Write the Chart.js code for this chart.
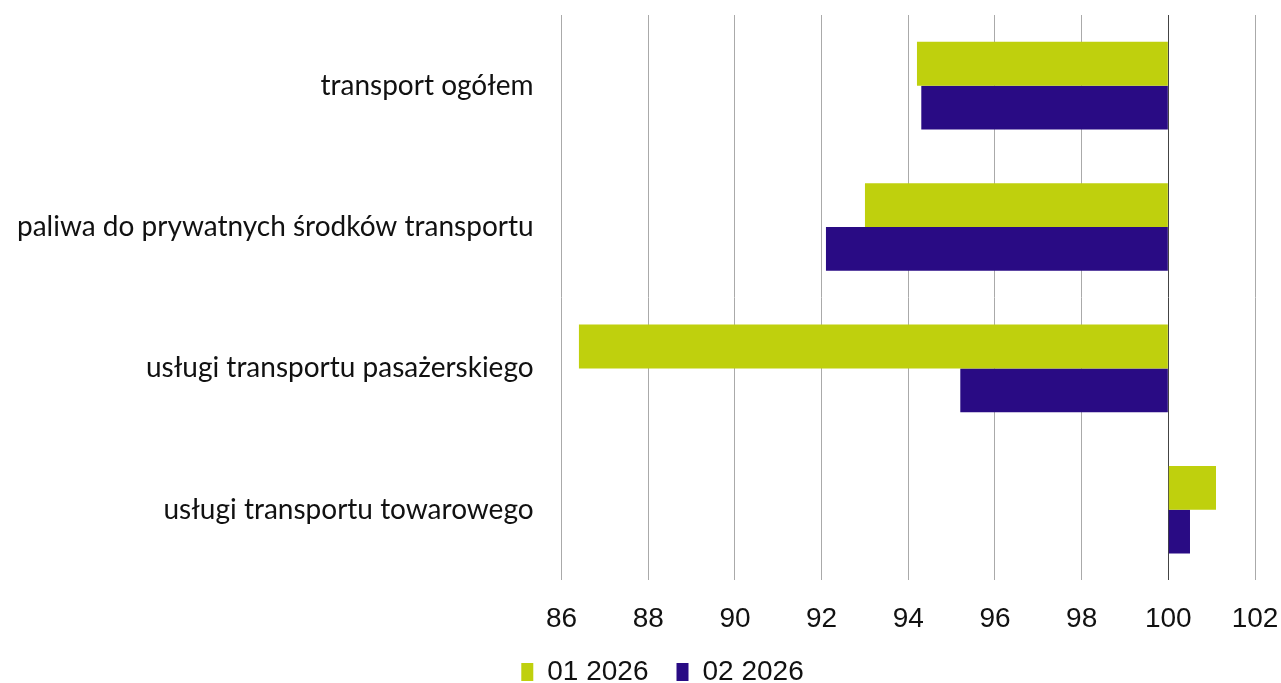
<!DOCTYPE html>
<html><head><meta charset="utf-8">
<script src="https://cdn.jsdelivr.net/npm/chart.js@4/dist/chart.umd.min.js"></script>
<style>html,body{margin:0;padding:0;background:#fff}#wrap{width:1281px;height:683px}</style>
</head><body><div id="wrap"><canvas id="c" width="1281" height="683"></canvas></div>
<script>
const categories = ["transport ogółem","paliwa do prywatnych środków transportu","usługi transportu pasażerskiego","usługi transportu towarowego"];
const series1Name = "01 2026";
const series2Name = "02 2026";
const series1 = [94.2, 93.0, 86.4, 101.1];
const series2 = [94.3, 92.1, 95.2, 100.5];
const baseValue = 100;
const xMin = 86, xMax = 102, xStep = 2;

const numFont = {family: "'Liberation Sans', Arial, sans-serif", size: 28};
const zeroPad = s => { s.paddingTop = 0; s.paddingBottom = 0; s.paddingLeft = 0; s.paddingRight = 0; };
const chart = new Chart(document.getElementById('c'), {
  type: 'bar',
  data: {
    labels: categories,
    datasets: [
      {label: series1Name, data: series1, base: baseValue, backgroundColor: '#bfd00d', borderWidth: 0},
      {label: series2Name, data: series2, base: baseValue, backgroundColor: '#290b84', borderWidth: 0}
    ]
  },
  options: {
    indexAxis: 'y',
    responsive: false,
    animation: false,
    devicePixelRatio: 1,
    categoryPercentage: 0.62,
    barPercentage: 1,
    layout: {padding: {top: 15, right: 26, left: 14, bottom: 0}},
    scales: {
      x: {
        min: xMin, max: xMax,
        afterFit: zeroPad,
        ticks: {stepSize: xStep, color: '#111', font: numFont, padding: 22},
        grid: {drawTicks: false, color: c => c.tick && c.tick.value === baseValue ? '#444' : '#aaa', lineWidth: 1},
        border: {display: false}
      },
      y: {
        afterFit: s => { zeroPad(s); s.width -= 25; },
        ticks: {color: '#111', font: {family: "Lato, 'Open Sans', sans-serif", size: 28}, padding: 28},
        grid: {display: false, drawTicks: false},
        border: {display: false}
      }
    },
    plugins: {
      legend: {position: 'bottom', maxHeight: 25, labels: {boxWidth: 12, boxHeight: 18, color: '#111', font: numFont, padding: 28}},
      tooltip: {enabled: false}
    }
  }
});
chart.legend.draw = function() {
  const ctx = this.ctx;
  ctx.save();
  ctx.translate(28, -28);
  this._draw();
  ctx.restore();
};
chart.draw();
</script></body></html>
